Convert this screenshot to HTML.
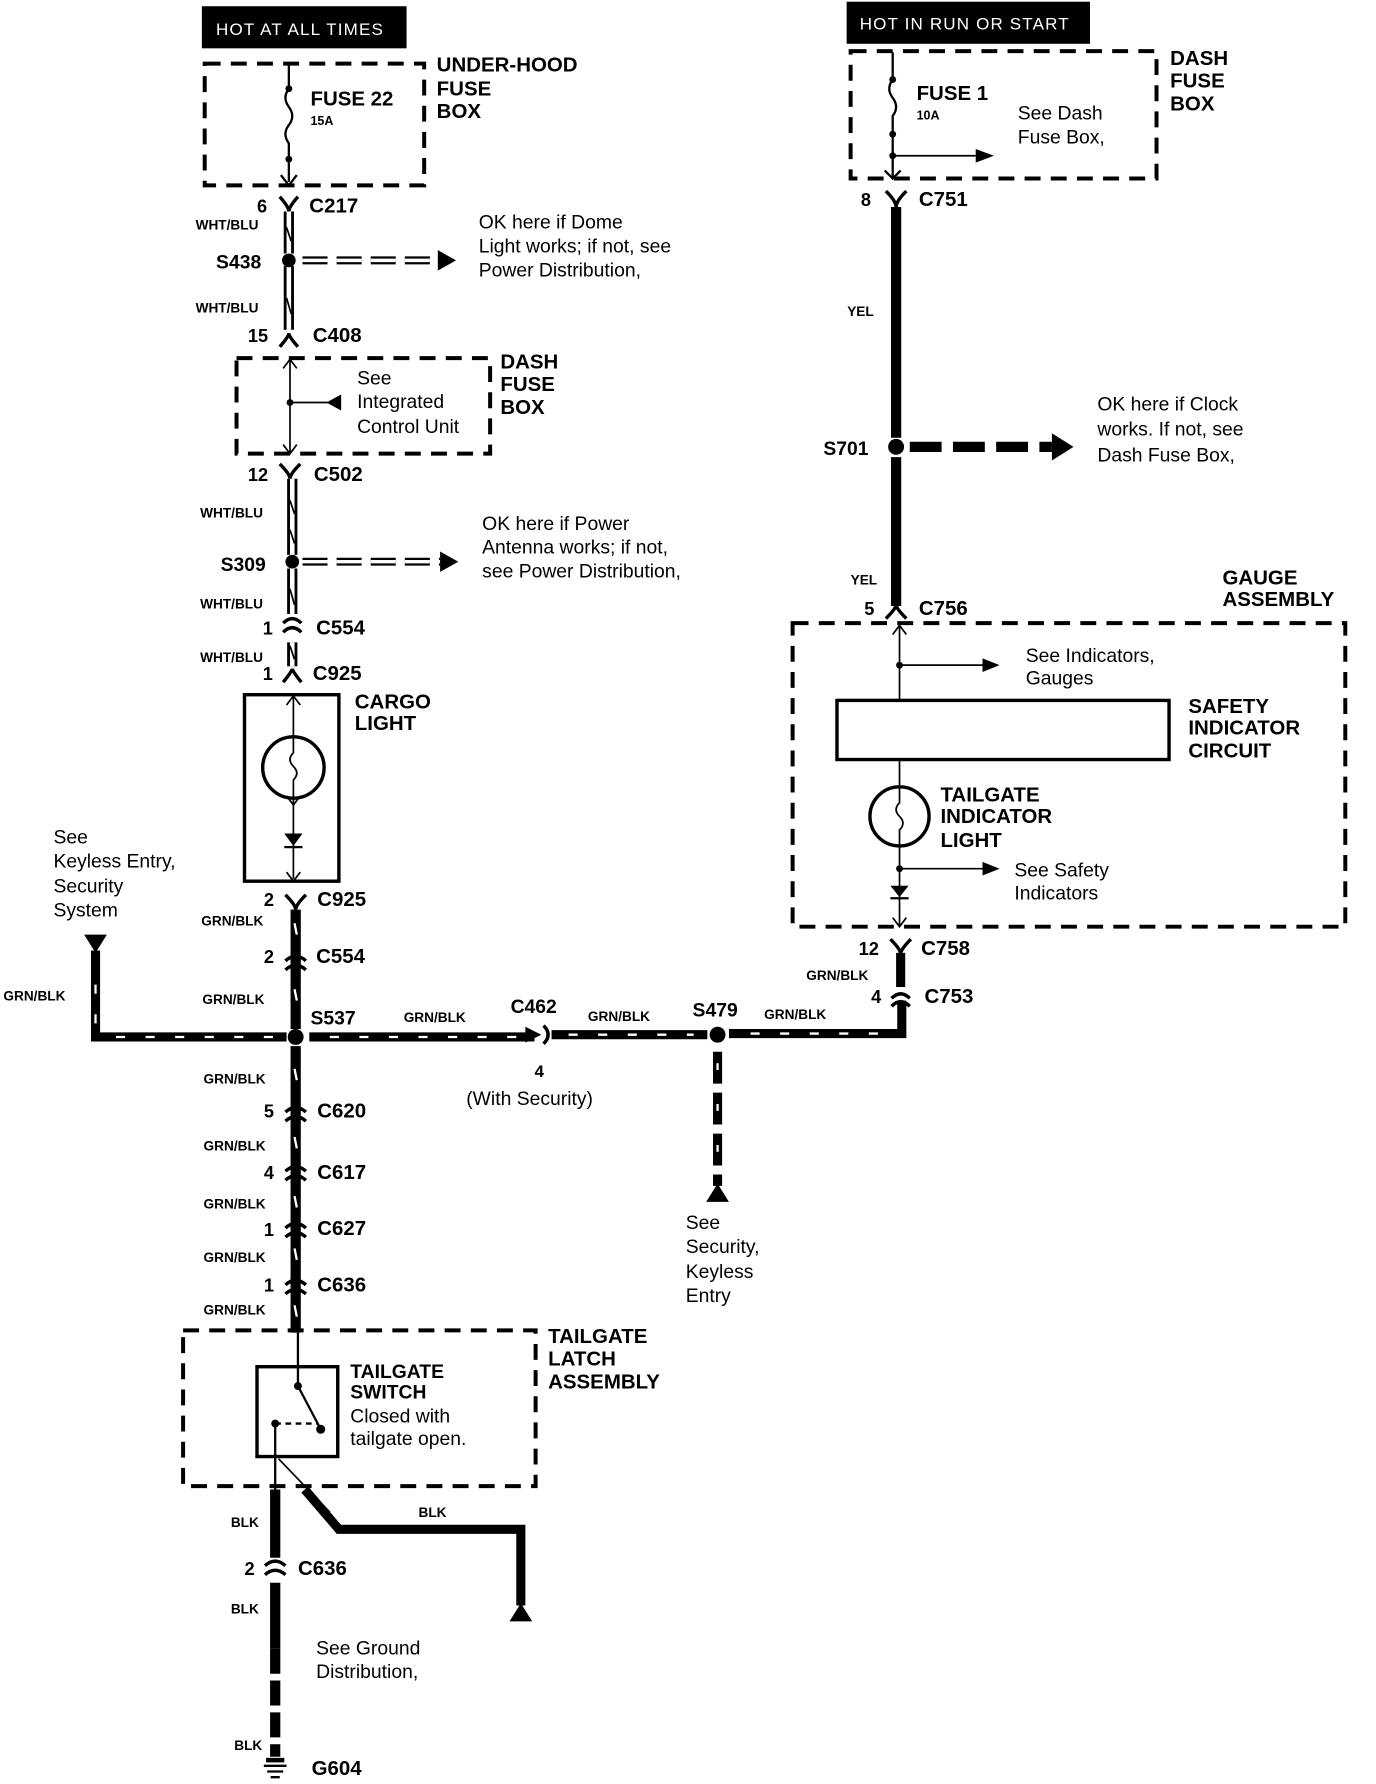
<!DOCTYPE html>
<html><head><meta charset="utf-8"><style>
html,body{margin:0;padding:0;background:#fff}
svg{display:block}
text{font-family:"Liberation Sans",Arial,sans-serif;fill:#000}
.b{font-weight:bold;font-size:18px}
.s{font-weight:bold;font-size:12px}
.n{font-size:17px}
.c{font-weight:bold;font-size:18px}
</style></head><body>
<svg width="1376" height="1784" viewBox="0 0 1210 1569" preserveAspectRatio="none" xmlns="http://www.w3.org/2000/svg">
<g fill="none" stroke="#000">
<rect x="178" y="6" width="179" height="36" fill="#000"/>
<rect x="180" y="56" width="193" height="107" stroke-width="3.5" stroke-dasharray="14,9"/>
<path d="M254 57 V78 q-6 8 0 16 q6 8 0 16 q-6 8 0 16 V160" stroke-width="2"/>
<path d="M247 154 L254 163 L261 154" stroke-width="2"/>
<path d="M246 173 Q254 182 254 186 Q254 182 262 173" stroke-width="3"/>
<path d="M254 186 V223 M254 234 V290" stroke-width="9"/>
<path d="M254 186 V223 M254 234 V290" stroke="#fff" stroke-width="4"/>
<path d="M252 200 L256 212 M252 262 L256 276" stroke-width="1.5"/>
<path d="M246 305 Q254 296 254 293 Q254 296 262 305" stroke-width="3"/>
<path d="M266 229 H385" stroke-width="7" stroke-dasharray="22,8"/>
<path d="M266 229 H385" stroke="#fff" stroke-width="3" stroke-dasharray="22,8"/>
<rect x="208" y="315" width="223" height="84" stroke-width="3.5" stroke-dasharray="14,9"/>
<path d="M255 316 V398" stroke-width="1.5"/>
<path d="M249 324 L255 316 L261 324 M249 391 L255 399 L261 391" stroke-width="1.5"/>
<path d="M255 354 H290" stroke-width="1.5"/>
<path d="M246 408 Q255 417 255 421 Q255 417 264 408" stroke-width="3"/>
<path d="M257 421 V488 M257 500 V540 M257 565 V586" stroke-width="9"/>
<path d="M257 421 V488 M257 500 V540 M257 565 V586" stroke="#fff" stroke-width="4"/>
<path d="M255 440 L259 452 M255 466 L259 478 M255 518 L259 532 M255 568 L259 580" stroke-width="1.5"/>
<path d="M249 548 Q257 540 265 548 M249 556 Q257 548 265 556" stroke-width="3"/>
<path d="M249 600 Q257 590 257 588 Q257 590 265 600" stroke-width="3"/>
<path d="M266 494 H387" stroke-width="7" stroke-dasharray="22,8"/>
<path d="M266 494 H387" stroke="#fff" stroke-width="3" stroke-dasharray="22,8"/>
<rect x="215" y="611" width="83" height="164" stroke-width="3"/>
<path d="M258 612 V647 M258 703 V773" stroke-width="1.5"/>
<path d="M252 620 L258 612 L264 620 M252 767 L258 775 L264 767 M252 700 L258 708 L264 700" stroke-width="1.5"/>
<circle cx="258" cy="675" r="27" stroke-width="3"/>
<path d="M258 648 V662 q-6 6 0 12 q6 6 0 12 V702" stroke-width="1.5"/>
<path d="M251 787 Q260 796 260 800 Q260 796 269 787" stroke-width="3"/>
<path d="M260 800 V905 M260 920 V1172" stroke-width="9"/>
<path d="M259 812 L261 822 M259 870 L261 880 M259 940 L261 950 M259 1000 L261 1010 M259 1052 L261 1062 M259 1098 L261 1108 M259 1148 L261 1158" stroke="#fff" stroke-width="2"/>
<path d="M251 845 Q260 837 269 845 M251 853 Q260 845 269 853" stroke-width="3"/>
<path d="M251 978 Q260 970 269 978 M251 986 Q260 978 269 986" stroke-width="3"/>
<path d="M251 1030 Q260 1022 269 1030 M251 1038 Q260 1030 269 1038" stroke-width="3"/>
<path d="M251 1080 Q260 1072 269 1080 M251 1088 Q260 1080 269 1088" stroke-width="3"/>
<path d="M251 1130 Q260 1122 269 1130 M251 1138 Q260 1130 269 1138" stroke-width="3"/>
<path d="M252 912 H84 V836" stroke-width="8"/>
<path d="M240 912 H100 M84 900 V850" stroke="#fff" stroke-width="2" stroke-dasharray="8,18"/>
<path d="M272 912 H470" stroke-width="8"/>
<path d="M485 910 H622 M641 909 H793 V880" stroke-width="8"/>
<path d="M290 912 H460 M500 910 H610 M660 909 H780" stroke="#fff" stroke-width="2" stroke-dasharray="8,18"/>
<path d="M478 902 Q486 910 478 918" stroke-width="3"/>
<path d="M631 925 V1043" stroke-width="8" stroke-dasharray="28,8"/>
<path d="M631 935 V1035" stroke="#fff" stroke-width="2" stroke-dasharray="6,30"/>
<path d="M784 878 Q792 870 800 878 M784 885 Q792 877 800 885" stroke-width="3"/>
<path d="M792 868 V838" stroke-width="8"/>
<path d="M783 826 Q792 835 792 839 Q792 835 801 826" stroke-width="3"/>
<rect x="161" y="1170" width="310" height="137" stroke-width="3.5" stroke-dasharray="14,9"/>
<rect x="226" y="1202" width="71" height="79" stroke-width="3"/>
<path d="M262 1172 V1219 L281 1255" stroke-width="2"/>
<path d="M242 1252 H280" stroke-width="2" stroke-dasharray="5,4"/>
<path d="M242 1252 V1310" stroke-width="2"/>
<path d="M245 1283 L290 1330" stroke-width="1.5"/>
<path d="M242 1310 V1370 M242 1392 V1450" stroke-width="9"/>
<path d="M242 1450 V1545" stroke-width="9" stroke-dasharray="22,6"/>
<path d="M233 1377 Q242 1369 251 1377 M233 1385 Q242 1377 251 1385" stroke-width="3"/>
<path d="M268 1310 L298 1345 H458 V1412" stroke-width="8"/>
<path d="M232 1553 H252 M235 1558 H249 M238 1563 H246" stroke-width="2"/>
<rect x="745" y="2" width="213" height="36" fill="#000"/>
<rect x="748" y="45" width="269" height="112" stroke-width="3.5" stroke-dasharray="14,9"/>
<path d="M785 46 V70 q-6 8 0 16 q6 8 0 16 V156" stroke-width="2"/>
<path d="M785 137 H858" stroke-width="1.5"/>
<path d="M778 150 L785 157 L792 150" stroke-width="2"/>
<path d="M779 168 Q788 177 788 182 Q788 177 797 168" stroke-width="3"/>
<path d="M788 182 V385 M788 402 V533" stroke-width="9"/>
<path d="M800 393 H925" stroke-width="9" stroke-dasharray="28,10"/>
<path d="M779 544 Q788 535 788 532 Q788 535 797 544" stroke-width="3"/>
<rect x="697" y="548" width="486" height="267" stroke-width="3.5" stroke-dasharray="14,9"/>
<path d="M791 550 V692 M791 744 V814" stroke-width="1.5"/>
<path d="M785 558 L791 550 L797 558 M785 807 L791 815 L797 807" stroke-width="1.5"/>
<path d="M791 585 H864 M791 764 H864" stroke-width="1.5"/>
<rect x="736" y="616" width="292" height="52" stroke-width="3" fill="#fff"/>
<circle cx="791" cy="718" r="26" stroke-width="3"/>
<path d="M791 692 V706 q-6 6 0 12 q6 6 0 12 V744" stroke-width="1.5"/>
</g>
<g fill="#000">
<path d="M858 131 L874 137 L858 143z"/>
<path d="M864 579 L879 585 L864 591z"/>
<path d="M864 758 L879 764 L864 770z"/>
<circle cx="254" cy="229" r="6"/>
<path d="M385 220 L401 229 L385 238z"/>
<circle cx="255" cy="354" r="3"/>
<path d="M300 347 L287 354 L300 361z"/>
<circle cx="257" cy="494" r="6"/>
<path d="M387 485 L403 494 L387 503z"/>
<path d="M250 733 H266 L258 744z"/><rect x="250" y="744" width="16" height="2"/>
<circle cx="260" cy="912" r="7"/>
<circle cx="631" cy="910" r="7"/>
<path d="M74 822 H94 L84 838z"/>
<path d="M462 903 L476 910 L462 917z"/>
<path d="M621 1057 H641 L631 1041z"/>
<path d="M448 1426 H468 L458 1410z"/>
<circle cx="262" cy="1219" r="3.5"/><circle cx="282" cy="1257" r="4"/><circle cx="242" cy="1252" r="3.5"/>
<rect x="234" y="1546" width="16" height="4"/>
<circle cx="788" cy="393" r="7"/>
<path d="M925 381 L944 393 L925 405z"/>
<circle cx="785" cy="137" r="3"/><circle cx="785" cy="70" r="3"/><circle cx="785" cy="118" r="3"/>
<circle cx="254" cy="78" r="3"/><circle cx="254" cy="140" r="3"/>
<circle cx="791" cy="585" r="3"/><circle cx="791" cy="764" r="3"/>
<path d="M783 779 H799 L791 789z"/><rect x="783" y="789" width="16" height="2"/>
</g>
<text x="190" y="31" style="fill:#fff;font-size:15px;letter-spacing:1px">HOT AT ALL TIMES</text>
<text x="756" y="26" style="fill:#fff;font-size:15px;letter-spacing:1px">HOT IN RUN OR START</text>
<text class="b" x="384" y="63">UNDER-HOOD</text><text class="b" x="384" y="84">FUSE</text><text class="b" x="384" y="104">BOX</text>
<text class="b" x="273" y="93">FUSE  22</text><text class="s" x="273" y="110" style="font-size:11px">15A</text>
<text class="c" x="226" y="187" style="font-size:16px">6</text><text class="c" x="272" y="187">C217</text>
<text class="s" x="172" y="202">WHT/BLU</text>
<text class="c" x="190" y="236" style="font-size:17px">S438</text>
<text class="n" x="421" y="201">OK here if Dome</text><text class="n" x="421" y="222">Light works; if not, see</text><text class="n" x="421" y="243">Power Distribution,</text>
<text class="s" x="172" y="275">WHT/BLU</text>
<text class="c" x="218" y="301" style="font-size:16px">15</text><text class="c" x="275" y="301">C408</text>
<text class="n" x="314" y="338">See</text><text class="n" x="314" y="359">Integrated</text><text class="n" x="314" y="381">Control Unit</text>
<text class="b" x="440" y="324">DASH</text><text class="b" x="440" y="344">FUSE</text><text class="b" x="440" y="364">BOX</text>
<text class="c" x="218" y="423" style="font-size:16px">12</text><text class="c" x="276" y="423">C502</text>
<text class="s" x="176" y="455">WHT/BLU</text>
<text class="c" x="194" y="502" style="font-size:17px">S309</text>
<text class="n" x="424" y="466">OK here if Power</text><text class="n" x="424" y="487">Antenna works; if not,</text><text class="n" x="424" y="508">see Power Distribution,</text>
<text class="s" x="176" y="535">WHT/BLU</text>
<text class="c" x="231" y="558" style="font-size:16px">1</text><text class="c" x="278" y="558">C554</text>
<text class="s" x="176" y="582">WHT/BLU</text>
<text class="c" x="231" y="598" style="font-size:16px">1</text><text class="c" x="275" y="598">C925</text>
<text class="b" x="312" y="623">CARGO</text><text class="b" x="312" y="642">LIGHT</text>
<text class="n" x="47" y="742">See</text><text class="n" x="47" y="763">Keyless Entry,</text><text class="n" x="47" y="785">Security</text><text class="n" x="47" y="806">System</text>
<text class="c" x="232" y="797" style="font-size:16px">2</text><text class="c" x="279" y="797">C925</text>
<text class="s" x="177" y="814">GRN/BLK</text>
<text class="c" x="232" y="847" style="font-size:16px">2</text><text class="c" x="278" y="847">C554</text>
<text class="s" x="3" y="880">GRN/BLK</text>
<text class="s" x="178" y="883">GRN/BLK</text>
<text class="c" x="273" y="901" style="font-size:17px">S537</text>
<text class="s" x="355" y="899">GRN/BLK</text>
<text class="c" x="449" y="891" style="font-size:17px">C462</text>
<text class="s" x="517" y="898">GRN/BLK</text>
<text class="c" x="609" y="894" style="font-size:17px">S479</text>
<text class="s" x="672" y="896">GRN/BLK</text>
<text class="c" x="470" y="947" style="font-size:15px">4</text>
<text class="n" x="410" y="972">(With Security)</text>
<text class="s" x="709" y="862">GRN/BLK</text>
<text class="c" x="755" y="840" style="font-size:16px">12</text><text class="c" x="810" y="840">C758</text>
<text class="c" x="766" y="882" style="font-size:16px">4</text><text class="c" x="813" y="882">C753</text>
<text class="s" x="179" y="953">GRN/BLK</text>
<text class="c" x="232" y="983" style="font-size:16px">5</text><text class="c" x="279" y="983">C620</text>
<text class="s" x="179" y="1012">GRN/BLK</text>
<text class="c" x="232" y="1037" style="font-size:16px">4</text><text class="c" x="279" y="1037">C617</text>
<text class="s" x="179" y="1063">GRN/BLK</text>
<text class="c" x="232" y="1087" style="font-size:16px">1</text><text class="c" x="279" y="1086">C627</text>
<text class="s" x="179" y="1110">GRN/BLK</text>
<text class="c" x="232" y="1136" style="font-size:16px">1</text><text class="c" x="279" y="1136">C636</text>
<text class="s" x="179" y="1156">GRN/BLK</text>
<text class="n" x="603" y="1081">See</text><text class="n" x="603" y="1102">Security,</text><text class="n" x="603" y="1124">Keyless</text><text class="n" x="603" y="1145">Entry</text>
<text class="b" x="482" y="1181">TAILGATE</text><text class="b" x="482" y="1201">LATCH</text><text class="b" x="482" y="1221">ASSEMBLY</text>
<text class="b" x="308" y="1212" style="font-size:17px">TAILGATE</text><text class="b" x="308" y="1230" style="font-size:17px">SWITCH</text>
<text class="n" x="308" y="1251">Closed with</text><text class="n" x="308" y="1271">tailgate open.</text>
<text class="s" x="203" y="1343">BLK</text><text class="s" x="368" y="1334">BLK</text>
<text class="c" x="215" y="1385" style="font-size:16px">2</text><text class="c" x="262" y="1385">C636</text>
<text class="s" x="203" y="1419">BLK</text>
<text class="n" x="278" y="1455">See Ground</text><text class="n" x="278" y="1476">Distribution,</text>
<text class="s" x="206" y="1539">BLK</text>
<text class="c" x="274" y="1561">G604</text>
<text class="b" x="1029" y="57">DASH</text><text class="b" x="1029" y="77">FUSE</text><text class="b" x="1029" y="97">BOX</text>
<text class="b" x="806" y="88">FUSE 1</text><text class="s" x="806" y="105" style="font-size:11px">10A</text>
<text class="n" x="895" y="105">See Dash</text><text class="n" x="895" y="126">Fuse Box,</text>
<text class="c" x="757" y="181" style="font-size:16px">8</text><text class="c" x="808" y="181">C751</text>
<text class="s" x="745" y="278">YEL</text>
<text class="c" x="724" y="400" style="font-size:17px">S701</text>
<text class="n" x="965" y="361">OK here if Clock</text><text class="n" x="965" y="383">works. If not, see</text><text class="n" x="965" y="406">Dash Fuse Box,</text>
<text class="s" x="748" y="514">YEL</text>
<text class="b" x="1075" y="514">GAUGE</text><text class="b" x="1075" y="533">ASSEMBLY</text>
<text class="c" x="760" y="541" style="font-size:16px">5</text><text class="c" x="808" y="541">C756</text>
<text class="n" x="902" y="582">See Indicators,</text><text class="n" x="902" y="602">Gauges</text>
<text class="b" x="1045" y="627">SAFETY</text><text class="b" x="1045" y="646">INDICATOR</text><text class="b" x="1045" y="666">CIRCUIT</text>
<text class="b" x="827" y="705">TAILGATE</text><text class="b" x="827" y="724">INDICATOR</text><text class="b" x="827" y="745">LIGHT</text>
<text class="n" x="892" y="771">See Safety</text><text class="n" x="892" y="791">Indicators</text>
</svg>
</body></html>
